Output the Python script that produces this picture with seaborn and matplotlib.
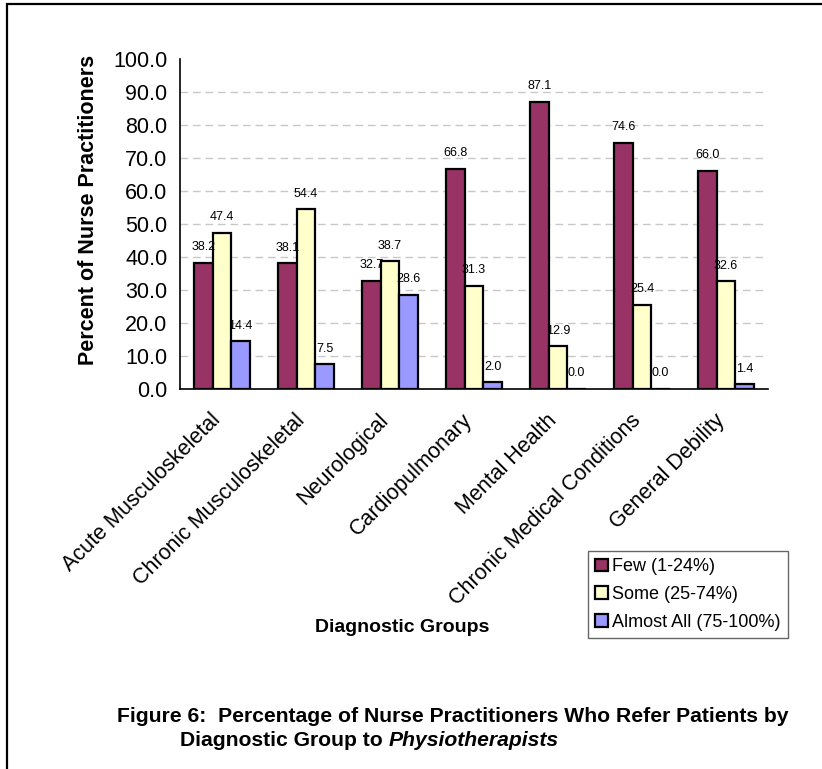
import matplotlib
matplotlib.use("Agg")
import matplotlib.pyplot as plt
import seaborn as sns
import pandas as pd
from matplotlib.patches import Rectangle
from matplotlib.transforms import ScaledTranslation

# Diagnostic groups and referral levels
groups = ["Acute Musculoskeletal", "Chronic Musculoskeletal", "Neurological",
          "Cardiopulmonary", "Mental Health", "Chronic Medical Conditions",
          "General Debility"]
levels = ["Few (1-24%)", "Some (25-74%)", "Almost All (75-100%)"]

# Percent of nurse practitioners for each referral level
few = [38.2, 38.1, 32.7, 66.8, 87.1, 74.6, 66.0]
some = [47.4, 54.4, 38.7, 31.3, 12.9, 25.4, 32.6]
almost_all = [14.4, 7.5, 28.6, 2.0, 0.0, 0.0, 1.4]

colors = ["#993366", "#FFFFCC", "#9999FF"]
yticks = [0, 10, 20, 30, 40, 50, 60, 70, 80, 90, 100]

sns.set_style("white")
plt.rcParams["font.family"] = ["Liberation Sans", "DejaVu Sans"]
plt.rcParams["text.color"] = "black"
plt.rcParams["axes.labelcolor"] = "black"
plt.rcParams["xtick.color"] = "black"
plt.rcParams["ytick.color"] = "black"

df = pd.DataFrame({
    "group": groups * 3,
    "level": [lv for lv in levels for _ in groups],
    "pct": few + some + almost_all,
})

W, H = 822, 769
fig = plt.figure(figsize=(W / 100, H / 100), dpi=100)
ax = fig.add_axes([180 / W, 1 - 389 / H, (768 - 180) / W, (389 - 59) / H])

sns.barplot(data=df, x="group", y="pct", hue="level", order=groups,
            hue_order=levels, palette=dict(zip(levels, colors)),
            width=0.667, gap=0, edgecolor="black", linewidth=1.6,
            saturation=1, errorbar=None, ax=ax, zorder=2)

# value labels above each bar
for cont, vals in zip(ax.containers, [few, some, almost_all]):
    ax.bar_label(cont, labels=[f"{v:.1f}" for v in vals], padding=7,
                 fontsize=9, color="black")

# dashed horizontal gridlines
for yv in yticks[1:-1]:
    ax.axhline(yv, color="#c8c8c8", linestyle=(0, (5.5, 3.5)),
               linewidth=1.0, zorder=0.5)

ax.set_xlim(-0.5, len(groups) - 0.5)
ax.set_ylim(0, 100)
ax.set_yticks(yticks)
ax.set_yticklabels([f"{v:.1f}" for v in yticks], fontsize=15.5)
ax.tick_params(axis="y", length=5, width=1, direction="out", pad=4)

ax.set_xticks(range(len(groups)))
ax.set_xticklabels(groups, rotation=45, ha="right", va="top",
                   rotation_mode="anchor", fontsize=15.5)
ax.tick_params(axis="x", which="major", length=0, pad=15)
shift = ScaledTranslation(-0.12, 0, fig.dpi_scale_trans)
for lab in ax.get_xticklabels():
    lab.set_transform(lab.get_transform() + shift)
ax.set_xticks([i - 0.5 for i in range(len(groups) + 1)], minor=True)
ax.tick_params(axis="x", which="minor", length=5, width=1, direction="out")

for side in ["top", "right"]:
    ax.spines[side].set_visible(False)
for side in ["left", "bottom"]:
    ax.spines[side].set_color("black")
    ax.spines[side].set_linewidth(1.2)

ax.set_xlabel("")
ax.set_ylabel("")

handles, labels = ax.get_legend_handles_labels()
ax.get_legend().remove()
leg = fig.legend(handles, labels, loc="upper left",
                 bbox_to_anchor=(588 / W, 1 - 551 / H), frameon=True,
                 fancybox=False, edgecolor="#404040", fontsize=13,
                 handlelength=0.7, handleheight=0.7, handletextpad=0.25,
                 labelspacing=0.6, borderpad=0.4, borderaxespad=0)
leg.get_frame().set_linewidth(1.0)

fig.text(402 / W, 1 - 628 / H, "Diagnostic Groups", ha="center", va="center",
         fontsize=14, fontweight="bold")
fig.text(88 / W, 1 - 210 / H, "Percent of Nurse Practitioners", ha="center",
         va="center", rotation=90, fontsize=15.5, fontweight="bold")

# caption
fig.text(117 / W, 1 - 717 / H,
         "Figure 6:  Percentage of Nurse Practitioners Who Refer Patients by",
         ha="left", va="center", fontsize=15.2, fontweight="bold")
t1 = fig.text(180 / W, 1 - 740 / H, "Diagnostic Group to ", ha="left",
              va="center", fontsize=15.2, fontweight="bold")
fig.canvas.draw()
bb = t1.get_window_extent(renderer=fig.canvas.get_renderer())
fig.text(bb.x1 / W, 1 - 740 / H, "Physiotherapists", ha="left", va="center",
         fontsize=15.2, fontweight="bold", fontstyle="italic")

# outer frame
fig.add_artist(Rectangle((7 / W, -0.1), 1.2, 1.1 - 4 / H,
                         transform=fig.transFigure, fill=False,
                         edgecolor="black", linewidth=1.6))

fig.savefig("out.png", dpi=100)
